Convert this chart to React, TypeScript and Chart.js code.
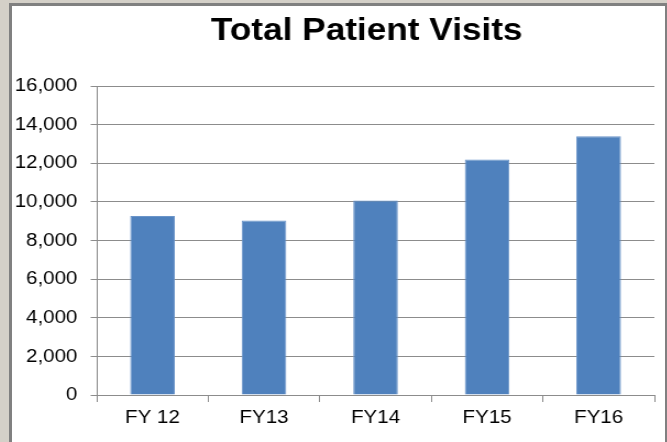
import React, { useEffect, useRef } from "react";
import { Chart, registerables } from "chart.js";

Chart.register(...registerables);

const titleText = "Total Patient Visits";
const categories = ["FY 12", "FY13", "FY14", "FY15", "FY16"];
const visits = [9270, 9030, 10070, 12190, 13400];
const yMin = 0;
const yMax = 16000;
const yStep = 2000;

const FONT = '"Liberation Sans", Arial, sans-serif';
const STRETCH = 1.1;
const CANVAS_W = 594;
const CANVAS_H = 436;

const titlePlugin = {
  id: "customTitle",
  afterDraw(chart: any) {
    const ctx = chart.ctx;
    const area = chart.chartArea;
    ctx.save();
    ctx.font = `bold 32px ${FONT}`;
    ctx.fillStyle = "#000";
    ctx.textAlign = "center";
    ctx.textBaseline = "alphabetic";
    ctx.fillText(titleText, (area.left + area.right) / 2 - 8, 34);
    ctx.restore();
  },
};

export default function App() {
  const ref = useRef<HTMLCanvasElement | null>(null);

  useEffect(() => {
    if (!ref.current) return;
    const gridColor = "#8c8c8c";
    const chart = new Chart(ref.current, {
      type: "bar",
      data: {
        labels: categories,
        datasets: [
          {
            data: visits,
            backgroundColor: "#4f81bd",
            borderColor: "#6a94c9",
            borderWidth: 1,
            barPercentage: 0.4,
            categoryPercentage: 1,
          },
        ],
      },
      options: {
        responsive: false,
        animation: false,
        devicePixelRatio: 1,
        layout: { padding: { top: 80, right: 10, left: 0, bottom: 0 } },
        plugins: {
          legend: { display: false },
          tooltip: { enabled: false },
          title: { display: false },
        },
        scales: {
          x: {
            grid: {
              display: true,
              drawOnChartArea: false,
              drawTicks: true,
              tickLength: 7,
              color: gridColor,
              offset: true,
            },
            border: { display: true, color: gridColor },
            ticks: {
              font: { family: FONT, size: 18.67 },
              color: "#000",
              padding: 5,
              maxRotation: 0,
            },
            afterFit: (scale: any) => {
              scale.height = 47;
            },
          },
          y: {
            min: yMin,
            max: yMax,
            grid: {
              color: gridColor,
              drawTicks: true,
              tickLength: 5.5,
            },
            border: { display: true, color: gridColor },
            ticks: {
              stepSize: yStep,
              font: { family: FONT, size: 18.67 },
              color: "#000",
              padding: 12,
              callback: (v: any) => Number(v).toLocaleString("en-US"),
            },
            afterFit: (scale: any) => {
              scale.width = 77;
            },
          },
        },
      },
      plugins: [titlePlugin],
    });
    return () => chart.destroy();
  }, []);

  return (
    <div
      style={{
        position: "fixed",
        left: 0,
        top: 0,
        width: 667,
        height: 442,
        background: "#d4d0c8",
        overflow: "hidden",
      }}
    >
      <div
        style={{
          position: "absolute",
          left: 9,
          top: 3,
          width: 653,
          height: 460,
          background: "#fff",
          borderLeft: "3px solid #808080",
          borderTop: "3px solid #808080",
          borderRight: "3px solid #808080",
          overflow: "hidden",
        }}
      >
        <div
          style={{
            transform: `scaleX(${STRETCH})`,
            transformOrigin: "0 0",
            width: CANVAS_W,
            height: CANVAS_H,
          }}
        >
          <canvas
            ref={ref}
            width={CANVAS_W}
            height={CANVAS_H}
            style={{ display: "block" }}
          />
        </div>
      </div>
    </div>
  );
}
